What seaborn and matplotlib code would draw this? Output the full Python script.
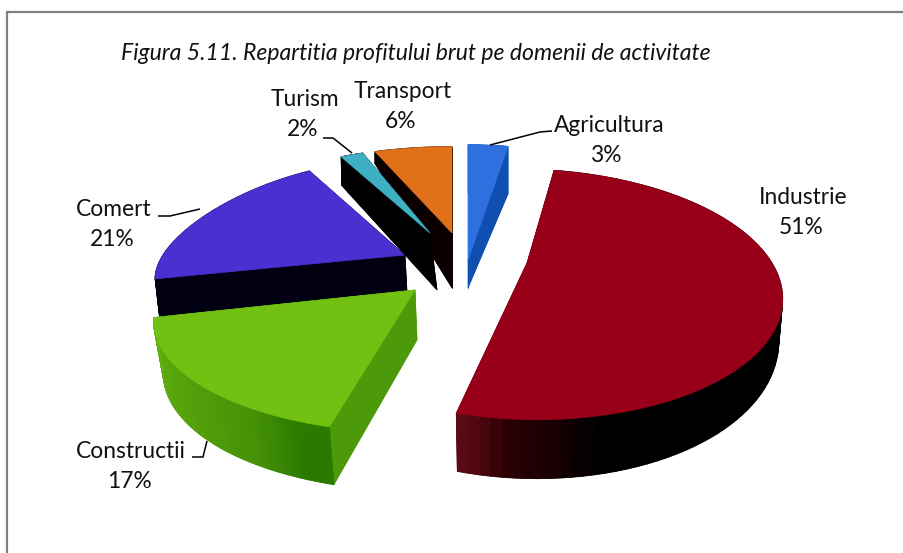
import numpy as np
import matplotlib
matplotlib.use("Agg")
import matplotlib.pyplot as plt
import seaborn as sns

sns.set_theme(style="white")
plt.rcParams['font.family'] = ['Lato', 'DejaVu Sans']

TITLE = "Figura 5.11. Repartitia profitului brut pe domenii de activitate"
categories = ["Agricultura", "Industrie", "Constructii", "Comert", "Turism", "Transport"]
values = [3, 51, 17, 21, 2, 6]

top_colors = ["#2f6fe0", "#98001a", "#72c012", "#4b2fd0", "#3fb0c4", "#e0701a"]
face_colors = ["#0f4fb0", "#300006", "#4c9a0a", "#000010", "#000000", "#0a0000"]
rim_stops = [["#0f4fb0", "#0f4fb0"],
             ["#000000"] * 21 + ["#1a0003", "#2a0005", "#5a0a14"],
             ["#2a7a00", "#2a7a00", "#3a8804", "#459205", "#4a950a", "#4f9c0a", "#529f0b",
              "#55a30c", "#58a60d", "#5aa80e", "#5cab0f", "#5eae10", "#5fb010"],
             ["#000010", "#000010"], ["#000000", "#000000"], ["#000000", "#000000"]]

# Projection of each exploded slice: apex, radii, perspective, thickness
apex_x = [468, 527, 415, 405, 430, 452]
apex_y = [260, 263, 290, 255, 233, 233]
radius_x = [266, 245, 251, 242, 225, 258]
radius_y = [144, 117.5, 103, 96, 106, 108]
persp_x = [.25, .25, .28, .25, .25, .25]
persp_y = [.25, .25, .28, 0, .25, .25]
skew_x = [0, -10, 0, 0, 0, 0]
depth0 = [28, 35, 50, 37, 57, 55]
depth_v = [20, -24, -8, -6, -32, -46]
depth_shift = [0, 0, 2, 2, 7, 0]
sink = [1, .985, .97, .99, 1.07, 1]
draw_order = [3, 5, 4, 0, 1, 2]

# Label anchors (centres) and leader lines
label_x = [609, 803, 131, 114, 305, 403]
label_y = [126, 197, 451, 210, 99, 91]
label_gap = 30
leaders = {0: ([552, 540, 490], [131, 132, 145]),
           4: ([323, 333, 352], [138, 138, 153]),
           3: ([158, 170, 200], [216, 216, 209]),
           2: ([192, 203, 207], [457, 457, 441])}

fig = plt.figure(figsize=(9.04, 5.53), dpi=100, facecolor="white")
ax = fig.add_axes([0, 0, 1, 1])
ax.set_xlim(0, 904)
ax.set_ylim(553, 0)
ax.axis("off")

edges = np.concatenate([[0], np.cumsum(values)]) / np.sum(values) * 2 * np.pi


def rim(i, th):
    u, v = np.sin(th), np.cos(th)
    x = apex_x[i] + radius_x[i] * u / (1 + persp_x[i] * v) + skew_x[i] * v
    y = apex_y[i] - radius_y[i] * v / (1 + persp_y[i] * v)
    return x, y, v


def sunk(i, x, y, v):
    return (apex_x[i] + depth_shift[i] + (x - apex_x[i]) * sink[i],
            y + depth0[i] + depth_v[i] * v)


for i in draw_order:
    th = np.linspace(edges[i], edges[i + 1], 90)
    x, y, v = rim(i, th)
    bx, by = sunk(i, x, y, v)
    ax0, ay0 = apex_x[i], apex_y[i]
    bax, bay = sunk(i, np.array([ax0]), np.array([ay0]), np.array([0.0]))
    fc = face_colors[i]
    # bottom, two radial faces
    ax.fill(np.r_[bax, bx], np.r_[bay, by], color=fc, lw=0)
    for k in (0, -1):
        ax.fill([ax0, x[k], bx[k], bax[0]], [ay0, y[k], by[k], bay[0]], color=fc, lw=0.5)
    # outer wall with its shading
    pal = sns.blend_palette(rim_stops[i], len(th) - 1)
    for j in range(len(th) - 1):
        ax.fill([x[j], x[j + 1], bx[j + 1], bx[j]], [y[j], y[j + 1], by[j + 1], by[j]],
                color=pal[j], lw=0.6)
    # top surface
    ax.fill(np.r_[ax0, x], np.r_[ay0, y], color=top_colors[i], lw=0.5)

for i, (lx, ly) in leaders.items():
    ax.plot(lx, ly, color="black", lw=1.1, solid_capstyle="butt")

for i, cat in enumerate(categories):
    ax.text(label_x[i], label_y[i], cat, ha="center", va="center", fontsize=16.4, color="#111111")
    ax.text(label_x[i] - 2, label_y[i] + label_gap, f"{values[i]}%", ha="center", va="center",
            fontsize=16.4, color="#111111")

ax.text(416, 53, TITLE, ha="center", va="center", style="italic", fontsize=16.6, color="#111111")

# picture frame: top and left edges
ax.plot([7, 7, 904], [553, 12, 12], color="#808080", lw=1.6, solid_joinstyle="miter")

fig.savefig("out.png", dpi=100, facecolor="white")
